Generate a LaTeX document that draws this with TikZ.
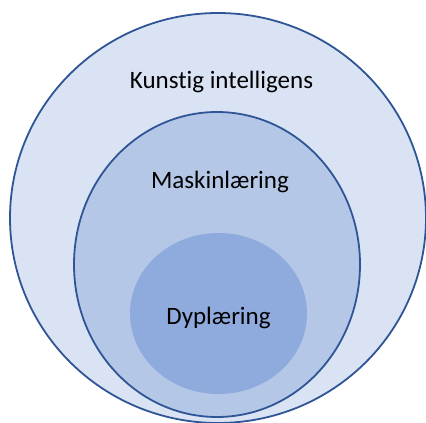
\documentclass[tikz,border=0pt]{standalone}
\usepackage{fontspec}
\setmainfont{Carlito}[Ligatures=NoCommon]
\usetikzlibrary{shapes.geometric}
\definecolor{ringA}{HTML}{DAE3F3}
\definecolor{ringB}{HTML}{B4C7E7}
\definecolor{ringC}{HTML}{8FAADC}
\definecolor{edgeblue}{HTML}{2F5597}
\begin{document}
\begin{tikzpicture}[x=1pt,y=-1pt,
  blob/.style={ellipse,inner sep=0pt,outer sep=0pt},
  lbl/.style={anchor=base,font=\fontsize{25}{29}\selectfont,text=black,inner sep=0pt}]
\useasboundingbox (0,0) rectangle (426,423);
\clip (0,0) rectangle (426,423);
\node[blob,fill=ringA,draw=edgeblue,line width=1.8pt,minimum width=416pt,minimum height=410pt] (ai) at (218,218) {};
\node[blob,fill=ringB,draw=edgeblue,line width=1.8pt,minimum width=286pt,minimum height=305pt] (ml) at (217,264.5) {};
\node[blob,fill=ringC,minimum width=177pt,minimum height=161pt] (dl) at (218.5,313.5) {};
\node[lbl] (tai) at (221.5,88) {Kunstig intelligens};
\node[lbl] (tml) at (220,188) {Maskinlæring};
\node[lbl] (tdl) at (218.5,324) {Dyplæring};
\end{tikzpicture}
\end{document}
